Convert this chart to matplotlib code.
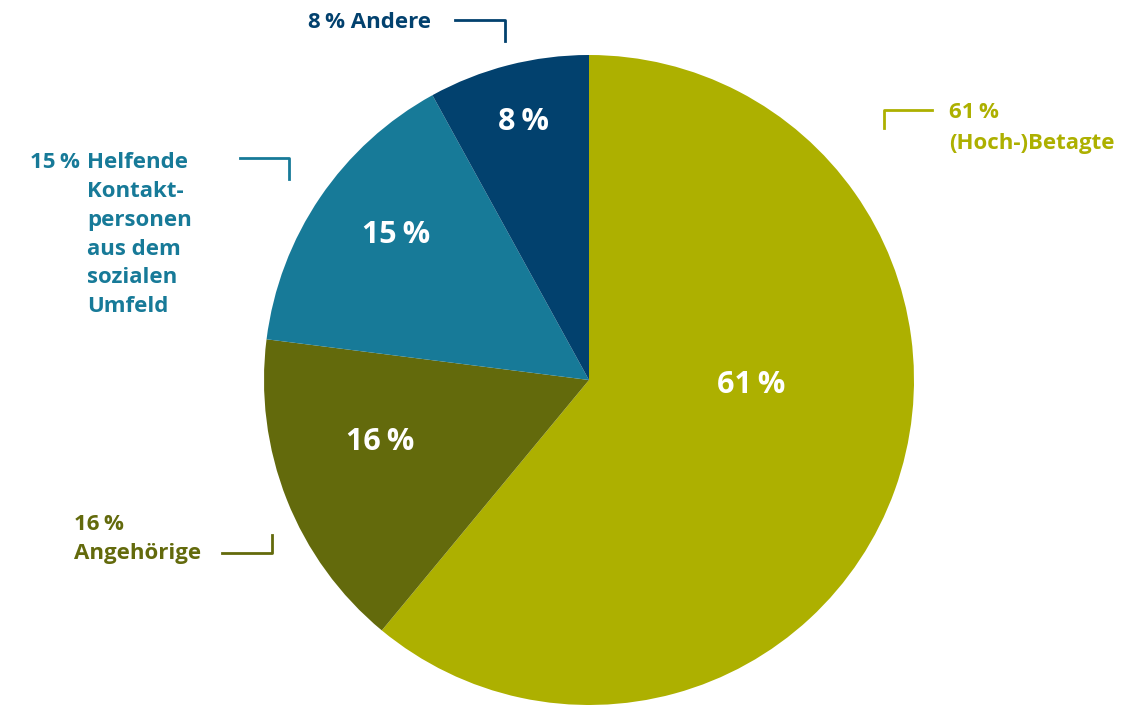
import matplotlib
matplotlib.use("Agg")
import matplotlib.pyplot as plt

# Daten
labels = ["(Hoch-)Betagte", "Angehörige", "Helfende Kontakt-personen aus dem sozialen Umfeld", "Andere"]
values = [61, 16, 15, 8]
colors = ["#adb000", "#636a0c", "#177a98", "#02416e"]

W, H = 1144, 705
fig = plt.figure(figsize=(W / 100, H / 100), dpi=100)
plt.rcParams["font.family"] = ["Open Sans", "DejaVu Sans"]

# Kreis: Mittelpunkt (589, 380) px, Radius 325 px
cx, cy, r = 589, 380, 325
ax = fig.add_axes([(cx - r) / W, (H - cy - r) / H, 2 * r / W, 2 * r / H])
ax.pie(values, colors=colors, startangle=90, counterclock=False,
       wedgeprops=dict(linewidth=0))
ax.set_xlim(-1, 1)
ax.set_ylim(-1, 1)
ax.axis("off")

# Überlagerung für Texte und Linien (Pixelkoordinaten)
ov = fig.add_axes([0, 0, 1, 1])
ov.set_xlim(0, W)
ov.set_ylim(H, 0)
ov.axis("off")
ov.patch.set_alpha(0)

# Innenbeschriftungen
inner_pos = [(751, 385), (380, 442), (396, 235), (523, 122)]
for v, (x, y) in zip(values, inner_pos):
    ov.text(x, y, f"{v}\u2009%", color="white", fontsize=22, fontweight="bold",
            ha="center", va="center")

lw = 2
fs = 16
d = 2  # vertikaler Versatz der Außenbeschriftungen
# 61 % (Hoch-)Betagte
ov.plot([884, 884, 932], [128, 110, 110], color=colors[0], lw=lw)
ov.text(949, 111 + d, "61\u2009%", color=colors[0], fontsize=fs, fontweight="bold", va="center")
ov.text(949, 141 + d, "(Hoch-)Betagte", color=colors[0], fontsize=fs, fontweight="bold", va="center")

# 16 % Angehörige
ov.plot([222, 272, 272], [553, 553, 535], color=colors[1], lw=lw)
ov.text(74, 522 + d, "16\u2009%", color=colors[1], fontsize=fs, fontweight="bold", va="center")
ov.text(74, 551 + d, "Angehörige", color=colors[1], fontsize=fs, fontweight="bold", va="center")

# 15 % Helfende Kontaktpersonen
ov.plot([240, 289, 289], [158, 158, 179], color=colors[2], lw=lw)
ov.text(80, 161 + d, "15\u2009%", color=colors[2], fontsize=fs, fontweight="bold", va="center", ha="right")
for i, line in enumerate(["Helfende", "Kontakt-", "personen", "aus dem", "sozialen", "Umfeld"]):
    ov.text(87, 161 + d + i * 28.7, line, color=colors[2], fontsize=fs, fontweight="bold", va="center")

# 8 % Andere
ov.plot([455, 505, 505], [20, 20, 41], color=colors[3], lw=lw)
ov.text(308, 21 + d, "8\u2009% Andere", color=colors[3], fontsize=fs, fontweight="bold", va="center")

fig.savefig("out.png", dpi=100)
